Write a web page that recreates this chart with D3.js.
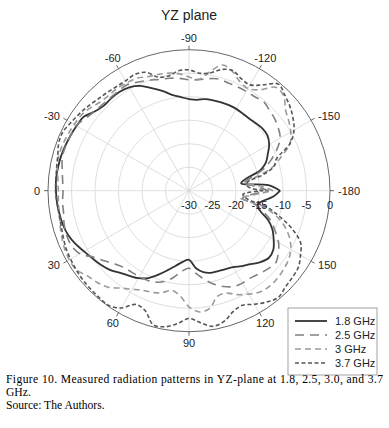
<!DOCTYPE html>
<html>
<head>
<meta charset="utf-8">
<script src="https://cdn.jsdelivr.net/npm/d3@7"></script>
<style>
  body { margin: 0; background: #fff; }
  svg { display: block; }
  .lbl { font-family: "Liberation Sans", Arial, sans-serif; font-size: 11px; fill: #222; }
  .cap { font-family: "Liberation Serif", "Times New Roman", serif; font-size: 11.6px; fill: #000; }
</style>
</head>
<body>
<div id="chart"></div>
<script>
// Angles (deg) shared by every series
const angles = [-180, -176, -172, -168, -164, -160, -155, -150, -145, -140, -135, -130, -125, -120,
  -115, -110, -105, -100, -95, -90, -85, -80, -75, -70, -65, -60, -55, -50, -45, -40, -35, -30,
  -25, -20, -15, -10, -5, 0, 5, 10, 15, 20, 25, 30, 35, 40, 45, 50, 55, 60, 65, 70, 75, 80, 85,
  90, 95, 100, 105, 110, 115, 120, 125, 130, 135, 140, 145, 150, 155, 160, 164, 168, 172, 176, 180];

// Measured gain (dB) per frequency
const gain18 = [-10.6, -13.1, -18.8, -17.5, -14.2, -12.6, -11.5, -10.3, -9.6, -9.5, -9.8, -10, -10, -9.9,
  -9.9, -10, -10.1, -10.2, -10.6, -10.5, -10, -9.3, -8, -6.8, -5.4, -4.6, -4.3, -4.3, -4.4, -3.8, -2.6, -2.4,
  -2.2, -2, -1.8, -1.7, -1.6, -1.7, -1.8, -2, -2.2, -2.6, -3.3, -4.2, -4.9, -5.5, -6.2, -7.2, -7.9, -8.5, -9.5,
  -11, -12.5, -13.8, -14.8, -15.3, -13.5, -12.4, -11.9, -11.8, -11.6, -11.2, -10.4, -9.6, -8.5, -7.8, -8.1,
  -9.2, -10.4, -12.2, -14.2, -15.2, -14.2, -12, -10.6];

const gain25 = [-13, -16, -18.5, -16.5, -13.6, -11.6, -9.4, -7.6, -6.8, -6.2, -5.8, -5.3, -5.6, -5.6,
  -5.6, -5.6, -5.4, -5.8, -6.3, -6.4, -6, -5.7, -5.5, -5, -4.5, -3.9, -4, -4.1, -4, -3.8, -3.1, -2.3,
  -2.2, -2.1, -2.1, -2.6, -3, -3.2, -3, -2.9, -2.5, -2.3, -2.4, -3.2, -5.3, -6.7, -7.9, -8.6, -8.8, -8.9, -9,
  -9.3, -10, -11.3, -12.8, -13.5, -12.3, -10.8, -9.4, -8.3, -7.5, -7.3, -7.3, -6.9, -6.4, -6, -6.8,
  -8, -9.8, -11.5, -13.5, -15.5, -18.5, -17, -13];

const gain30 = [-12.1, -15, -18, -15, -11.3, -9.2, -6.3, -5, -4.1, -3.2, -1.5, -1.3, -3.8, -4.9,
  -4.4, -3, -2.3, -4.3, -6.2, -5.8, -5, -4.6, -4.4, -4.2, -3.6, -3.5, -3.4, -3.5, -3.3, -2.6, -2, -1.8,
  -1.6, -1.4, -1.3, -1.5, -2, -2.2, -2.1, -2, -1.6, -1.2, -0.8, -0.6, -0.7, -1.8, -2.4, -3.2, -4.7, -5.8, -6.6,
  -7, -7.5, -8.5, -7.6, -5.3, -4.1, -4.6, -6.7, -6.8, -5.6, -4.6, -3.7, -3.4, -3.5, -3.8, -4.2,
  -5, -6.4, -8.5, -10.8, -14, -19, -16.5, -12.1];

const gain37 = [-14.2, -17.5, -17.5, -14, -11.2, -10.2, -6.3, -4.2, -3, -2, -1.2, -0.4, -2.5, -4,
  -3.7, -2.8, -3.3, -4.6, -4.9, -4.3, -4.4, -5.2, -5, -3.2, -2.7, -3, -3, -2.8, -2.5, -2, -1.5, -1,
  -0.4, -0.5, -1.1, -1.4, -1.6, -1.6, -1.8, -1.9, -1.8, -1.5, -1.1, -0.9, -0.7, -0.5, -0.4, -0.3, -0.2, -1.2, -3.3,
  -2.8, -0.5, -0.6, -1.6, -2.8, -1.8, -0.7, -1.2, -2.6, -3.1, -2.1, -1.1, -0.4, -1, -1.3, -1.6,
  -2.6, -3.8, -6.8, -9.9, -13, -17.5, -18.5, -14.2];

const freqLabels = ["1.8 GHz", "2.5 GHz", "3 GHz", "3.7 GHz"];
const radialTicks = [-30, -25, -20, -15, -10, -5, 0];
const angleTicks = [-180, -150, -120, -90, -60, -30, 0, 30, 60, 90, 120, 150];

const series = [
  { name: freqLabels[0], values: gain18, color: "#333", width: 1.8, dash: null },
  { name: freqLabels[1], values: gain25, color: "#808080", width: 1.6, dash: "9,6" },
  { name: freqLabels[2], values: gain30, color: "#9a9a9a", width: 1.6, dash: "6,4" },
  { name: freqLabels[3], values: gain37, color: "#555", width: 1.6, dash: "4,2.5" }
];

const W = 389, H = 428;
const cx = 189, cy = 190.7, R = 141;

const svg = d3.select("#chart").append("svg")
  .attr("width", W).attr("height", H);

// radius: dB -> px, angle: deg -> radians for d3.lineRadial (0 at left, -90 at top)
const rScale = d3.scaleLinear().domain([-30, 0]).range([0, R]);
const aScale = d3.scaleLinear().domain([-180, 180]).range([Math.PI / 2, -3 * Math.PI / 2]);

function px(theta, r) {
  const t = theta * Math.PI / 180;
  return [cx - r * Math.cos(t), cy + r * Math.sin(t)];
}

const g = svg.append("g").attr("transform", `translate(${cx},${cy})`);

// grid circles
g.selectAll(".ring").data(radialTicks.slice(1, -1))
  .join("circle")
  .attr("r", d => rScale(d))
  .attr("fill", "none")
  .attr("stroke", "#d6d6d6")
  .attr("stroke-width", 0.8);

// spokes
g.selectAll(".spoke").data(angleTicks)
  .join("line")
  .attr("x1", 0).attr("y1", 0)
  .attr("x2", d => px(d, R)[0] - cx)
  .attr("y2", d => px(d, R)[1] - cy)
  .attr("stroke", "#d6d6d6")
  .attr("stroke-width", 0.8);

// outer circle + ticks
g.append("circle").attr("r", R).attr("fill", "none").attr("stroke", "#555").attr("stroke-width", 0.9);
g.selectAll(".tick").data(angleTicks)
  .join("line")
  .attr("x1", d => px(d, R)[0] - cx).attr("y1", d => px(d, R)[1] - cy)
  .attr("x2", d => px(d, R + 4)[0] - cx).attr("y2", d => px(d, R + 4)[1] - cy)
  .attr("stroke", "#555").attr("stroke-width", 0.9);

// angle labels
angleTicks.forEach(a => {
  const c = Math.cos(a * Math.PI / 180);
  let anchor = "middle", rr = 152.5;
  if (c > 0.7) { anchor = "end"; rr = 149; }
  if (c < -0.7) { anchor = "start"; rr = 149; }
  const p = px(a, rr);
  svg.append("text").attr("class", "lbl")
    .attr("x", p[0]).attr("y", p[1])
    .attr("dy", "0.35em")
    .attr("text-anchor", anchor)
    .text(a === 180 || a === -180 ? "-180" : a);
});

// radial labels along the right axis
svg.selectAll(".rlbl").data(radialTicks)
  .join("text")
  .attr("class", "lbl")
  .attr("x", d => cx + rScale(d))
  .attr("y", cy + 14.5)
  .attr("dy", "0.35em")
  .attr("text-anchor", "middle")
  .text(d => d);

// patterns
const line = d3.lineRadial()
  .angle(d => aScale(d[0]))
  .radius(d => rScale(d[1]))
  .curve(d3.curveCatmullRom.alpha(0.5));

series.forEach(s => {
  g.append("path")
    .datum(angles.map((a, i) => [a, s.values[i]]))
    .attr("fill", "none")
    .attr("stroke", s.color)
    .attr("stroke-width", s.width)
    .attr("stroke-dasharray", s.dash)
    .attr("d", line);
});

// title
svg.append("text")
  .attr("x", cx).attr("y", 20)
  .attr("text-anchor", "middle")
  .style("font-family", "Liberation Sans, Arial, sans-serif")
  .style("font-size", "14px")
  .style("fill", "#222")
  .text("YZ plane");

// legend
const leg = svg.append("g").attr("transform", "translate(288,308)");
leg.append("rect").attr("width", 89).attr("height", 67)
  .attr("fill", "#fff").attr("stroke", "#999").attr("stroke-width", 0.9);
series.forEach((s, i) => {
  const y = 13 + i * 14;
  leg.append("line")
    .attr("x1", 7).attr("x2", 39).attr("y1", y).attr("y2", y)
    .attr("stroke", s.color).attr("stroke-width", s.width)
    .attr("stroke-dasharray", s.dash);
  leg.append("text").attr("class", "lbl")
    .attr("x", 47).attr("y", y).attr("dy", "0.35em")
    .text(s.name);
});

// caption
const capLines = [
  "Figure 10. Measured radiation patterns in YZ-plane at 1.8, 2.5, 3.0, and 3.7",
  "GHz.",
  "Source: The Authors."
];
svg.selectAll(".cap").data(capLines)
  .join("text")
  .attr("class", "cap")
  .attr("x", 6)
  .attr("y", (d, i) => 383 + i * 12.8)
  .attr("textLength", (d, i) => i === 0 ? 377 : null)
  .attr("lengthAdjust", "spacing")
  .text(d => d);
</script>
</body>
</html>
